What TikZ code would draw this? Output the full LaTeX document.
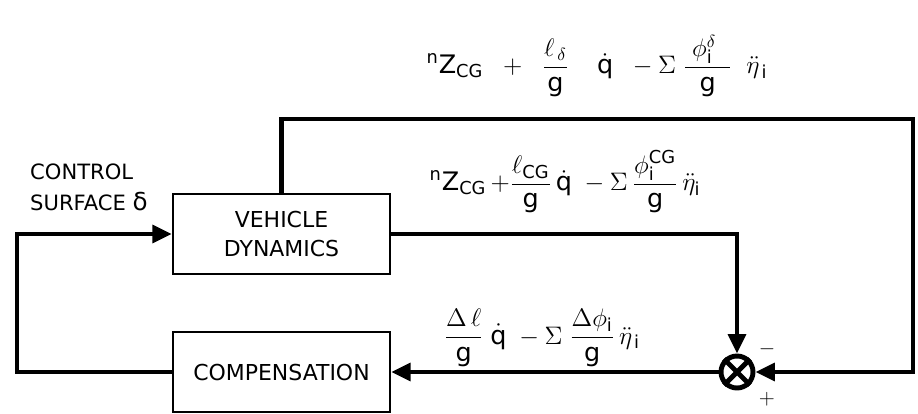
\documentclass[tikz,border=0pt]{standalone}
\usepackage{fontspec}
\setmainfont{DejaVu Sans}
\usepackage{tikz}
\usetikzlibrary{arrows.meta,calc}

\begin{document}
\begin{tikzpicture}[x=0.02cm,y=-0.02cm,
  blk/.style={draw,line width=1.4pt,minimum width=4.34cm,minimum height=1.6cm,align=center,font=\fontsize{12.5}{17}\selectfont},
  flow/.style={line width=2.4pt,line join=miter,-{Triangle[length=11pt,width=10pt]}},
  eqn/.style={font=\fontsize{14.5}{16}\selectfont}]
  \useasboundingbox (0,0) rectangle (918,413);
  % blocks
  \node[blk] (veh) at (281.5,234){VEHICLE\\DYNAMICS};
  \node[blk] (comp) at (281.5,372){COMPENSATION};
  \node[draw,circle,line width=2.8pt,minimum size=0.64cm,inner sep=0pt] (sum) at (737,372){};
  \draw[line width=2.8pt] (sum.45)--(sum.225) (sum.135)--(sum.315);
  \coordinate (tr) at (913,119);
  \coordinate (lft) at (17,300);
  % connectors
  \draw[flow] (veh.east) -| (sum.north);
  \draw[flow] (veh.north) |- (tr) |- (sum.east);
  \draw[flow] (sum.west) -- (comp.east);
  \draw[flow] (comp.west) -| (lft) |- (veh.west);
  % labels
  \node[align=left,anchor=west,font=\fontsize{12}{17.5}\selectfont] (ctl) at (24,187){CONTROL\\SURFACE {\fontsize{14}{14}\selectfont δ}};
  \node[eqn] (eqtop) at (597,66){$\displaystyle {}^{\mathrm{n}}\mathrm{Z}_{\mathrm{CG}} \;\;+\;\; \frac{\ell_{\,\delta}}{\mathrm{g}}\;\;\;\; \dot{\mathrm{q}}\;\;-\Sigma\;\frac{\;\phi_{\mathrm{i}}^{\delta}\;\;}{\mathrm{g}}\;\;\ddot{\eta}_{\,\mathrm{i}}$};
  \node[eqn] (eqmid) at (565,182){$\displaystyle {}^{\mathrm{n}}\mathrm{Z}_{\mathrm{CG}}\,{+}\frac{\ell_{\mathrm{CG}}}{\mathrm{g}}\,\dot{\mathrm{q}}\;-\Sigma\,\frac{\phi_{\mathrm{i}}^{\mathrm{CG}}}{\mathrm{g}}\,\ddot{\eta}_{\mathrm{i}}$};
  \node[eqn] (eqlow) at (542,338){$\displaystyle \frac{\Delta\,\ell}{\mathrm{g}}\;\dot{\mathrm{q}}\;-\Sigma\;\frac{\Delta\phi_{\mathrm{i}}}{\mathrm{g}}\,\ddot{\eta}_{\,\mathrm{i}}$};
  \node[font=\fontsize{12}{14}\selectfont] (minus) at (767,349){$-$};
  \node[font=\fontsize{12}{14}\selectfont] (plus) at (767,399){$+$};
\end{tikzpicture}
\end{document}
